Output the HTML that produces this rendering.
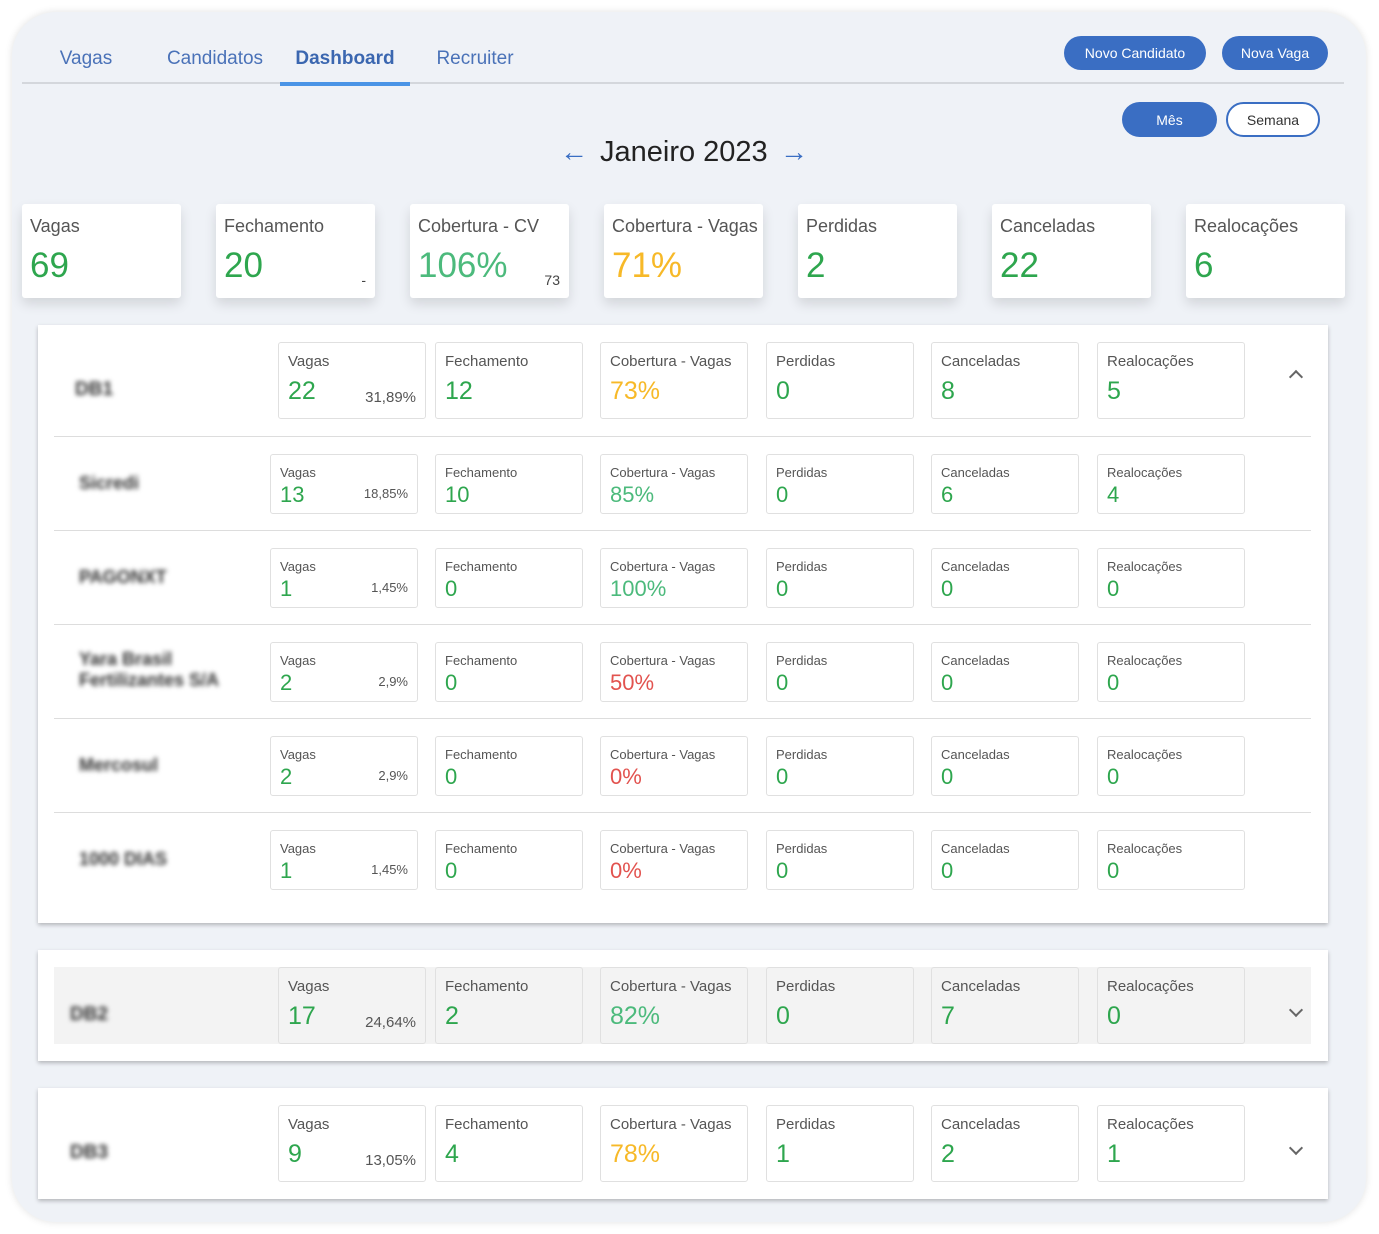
<!DOCTYPE html>
<html><head><meta charset="utf-8">
<style>
*{box-sizing:border-box;margin:0;padding:0}
body{width:1379px;height:1234px;background:#fff;font-family:"Liberation Sans",sans-serif;position:relative;overflow:hidden}
.abs{position:absolute}
#frame{left:12px;top:12px;width:1354px;height:1210px;background:#eff2f7;border-radius:44px;box-shadow:0 0 8px rgba(0,0,0,.12)}
.tab{top:48px;font-size:19px;color:#4a72b8;transform:translateX(-50%);white-space:nowrap}
.btn{background:#3a6ec3;color:#fff;border-radius:18px;font-size:14px;display:flex;align-items:center;justify-content:center}
.tcard{top:204px;width:159px;height:94px;background:#fff;border-radius:3px;box-shadow:0 6px 12px rgba(0,0,0,.12)}
.tcard .l{position:absolute;left:8px;top:12px;font-size:18px;color:#555}
.tcard .v{position:absolute;left:8px;top:42px;font-size:35px}
.panel{left:38px;width:1290px;background:#fff;box-shadow:0 2px 4px rgba(0,0,0,.25)}
.card{background:#fff;border:1px solid #e0e0e0;border-radius:3px}
.card .l{position:absolute;left:9px;color:#555}
.card .v{position:absolute;left:9px}
.card .p{position:absolute;right:9px;color:#555}
.name{left:75px;font-size:19px;font-weight:bold;color:#333;filter:blur(2.5px)}
.sep{left:54px;width:1257px;height:1px;background:#ddd}
.chev{left:1291px;width:10px;height:10px;border-left:2px solid #666;border-top:2px solid #666}
</style></head><body>
<div id="frame" class="abs"></div>
<div class="abs tab" style="left:86px">Vagas</div>
<div class="abs tab" style="left:215px">Candidatos</div>
<div class="abs tab" style="left:345px;font-weight:bold;color:#3b67b0">Dashboard</div>
<div class="abs tab" style="left:475px">Recruiter</div>
<div class="abs" style="left:22px;top:82px;width:1322px;height:2px;background:#d4d7dc"></div>
<div class="abs" style="left:280px;top:82px;width:130px;height:4px;background:#4a94e6"></div>
<div class="abs btn" style="left:1064px;top:36px;width:142px;height:34px">Novo Candidato</div>
<div class="abs btn" style="left:1222px;top:36px;width:106px;height:34px">Nova Vaga</div>
<div class="abs btn" style="left:1122px;top:102px;width:95px;height:35px">Mês</div>
<div class="abs btn" style="left:1226px;top:102px;width:94px;height:35px;background:#fff;color:#333;border:2px solid #3a6ec3">Semana</div>
<div class="abs" style="left:560px;top:136px;font-size:28px;font-weight:bold;color:#3a6ec3">&#8592;</div>
<div class="abs" style="left:600px;top:136px;font-size:29px;color:#222">Janeiro 2023</div>
<div class="abs" style="left:780px;top:136px;font-size:28px;font-weight:bold;color:#3a6ec3">&#8594;</div>
<div id="root"></div>
<script>
const G='#2ea64e',T='#4cba7c',Y='#f7b928',R='#e2534f';
const topLabels=['Vagas','Fechamento','Cobertura - CV','Cobertura - Vagas','Perdidas','Canceladas','Realocações'];
const topValues=['69','20','106%','71%','2','22','6'];
const topColors=[G,G,T,Y,G,G,G];
const topExtra=['','-','73','','','',''];
const metricLabels=['Vagas','Fechamento','Cobertura - Vagas','Perdidas','Canceladas','Realocações'];
const groupNames=['DB1','DB2','DB3'];
const groupValues=[['22','12','73%','0','8','5'],['17','2','82%','0','7','0'],['9','4','78%','1','2','1']];
const groupPct=['31,89%','24,64%','13,05%'];
const groupCov=[Y,T,Y];
const subNames=['Sicredi','PAGONXT','Yara Brasil Fertilizantes S/A','Mercosul','1000 DIAS'];
const subValues=[['13','10','85%','0','6','4'],['1','0','100%','0','0','0'],['2','0','50%','0','0','0'],['2','0','0%','0','0','0'],['1','0','0%','0','0','0']];
const subPct=['18,85%','1,45%','2,9%','2,9%','1,45%'];
const subCov=[T,T,R,R,R];
const root=document.getElementById('root');
function mk(cls,style,parent){const d=document.createElement('div');d.className=cls;d.style.cssText=style;(parent||root).appendChild(d);return d;}
topLabels.forEach((lab,i)=>{
  const c=mk('abs tcard','left:'+(22+i*194)+'px');
  
  
  c.innerHTML='<div class="l">'+lab+'</div><div class="v" style="color:'+topColors[i]+'">'+topValues[i]+'</div>'+(topExtra[i]?'<div style="position:absolute;right:9px;top:68px;font-size:14px;color:#444">'+topExtra[i]+'</div>':'');
});
const colX=[278,435,600,766,931,1097],colW=148;
function row(y,h,vals,pct,cov,big,bg,firstX,prefix){
  vals.forEach((v,j)=>{
    const x=j==0?firstX:colX[j];const w=j==0?(big?426-firstX:148):colW;
    const c=mk('abs card','left:'+x+'px;top:'+y+'px;width:'+w+'px;height:'+h+'px;'+(bg?'background:'+bg+';':''));
    
    
    const col=j==2?cov:G;
    c.innerHTML='<div class="l" style="top:10px;font-size:'+(big?15:13)+'px">'+metricLabels[j]+'</div><div class="v" style="top:'+(big?34:27)+'px;font-size:'+(big?25:22)+'px;color:'+col+'">'+v+'</div>'+(j==0?'<div class="p" style="top:'+(big?46:31)+'px;font-size:'+(big?15:13)+'px">'+pct+'</div>':'');
  });
}
const pTop=[325,950,1088],pH=[598,111,111];
groupNames.forEach((n,g)=>{
  const p=mk('abs panel','top:'+pTop[g]+'px;height:'+pH[g]+'px');
  
  
  const cy=pTop[g]+17;
  if(g==1){const b=mk('abs','left:54px;top:'+cy+'px;width:1257px;height:77px;background:#f3f3f3');
    
    }
  row(cy,77,groupValues[g],groupPct[g],groupCov[g],true,g==1?'#f3f3f3':'',278,'group-'+g);
  const nm=mk('abs name','top:'+(cy+37)+'px;left:'+(g==0?75:70)+'px');
  nm.textContent=n;
  
  
  const ch=mk('abs chev','top:'+(cy+(g==0?30:38))+'px;transform:rotate('+(g==0?45:225)+'deg)');
  
  
});
const s0=mk('abs sep','top:436px');


subNames.forEach((n,i)=>{
  const y=454+i*94;
  row(y,60,subValues[i],subPct[i],subCov[i],false,'',270,'sub-'+i);
  const nm=mk('abs name','top:'+(y+19)+'px;left:79px;width:175px;line-height:21px;font-size:18px');
  nm.textContent=n;
  if(i==2)nm.style.top=(y+7)+'px';
  
  
  if(i<4){const s=mk('abs sep','top:'+(y+76)+'px');
    
    }
});
</script>
</body></html>
